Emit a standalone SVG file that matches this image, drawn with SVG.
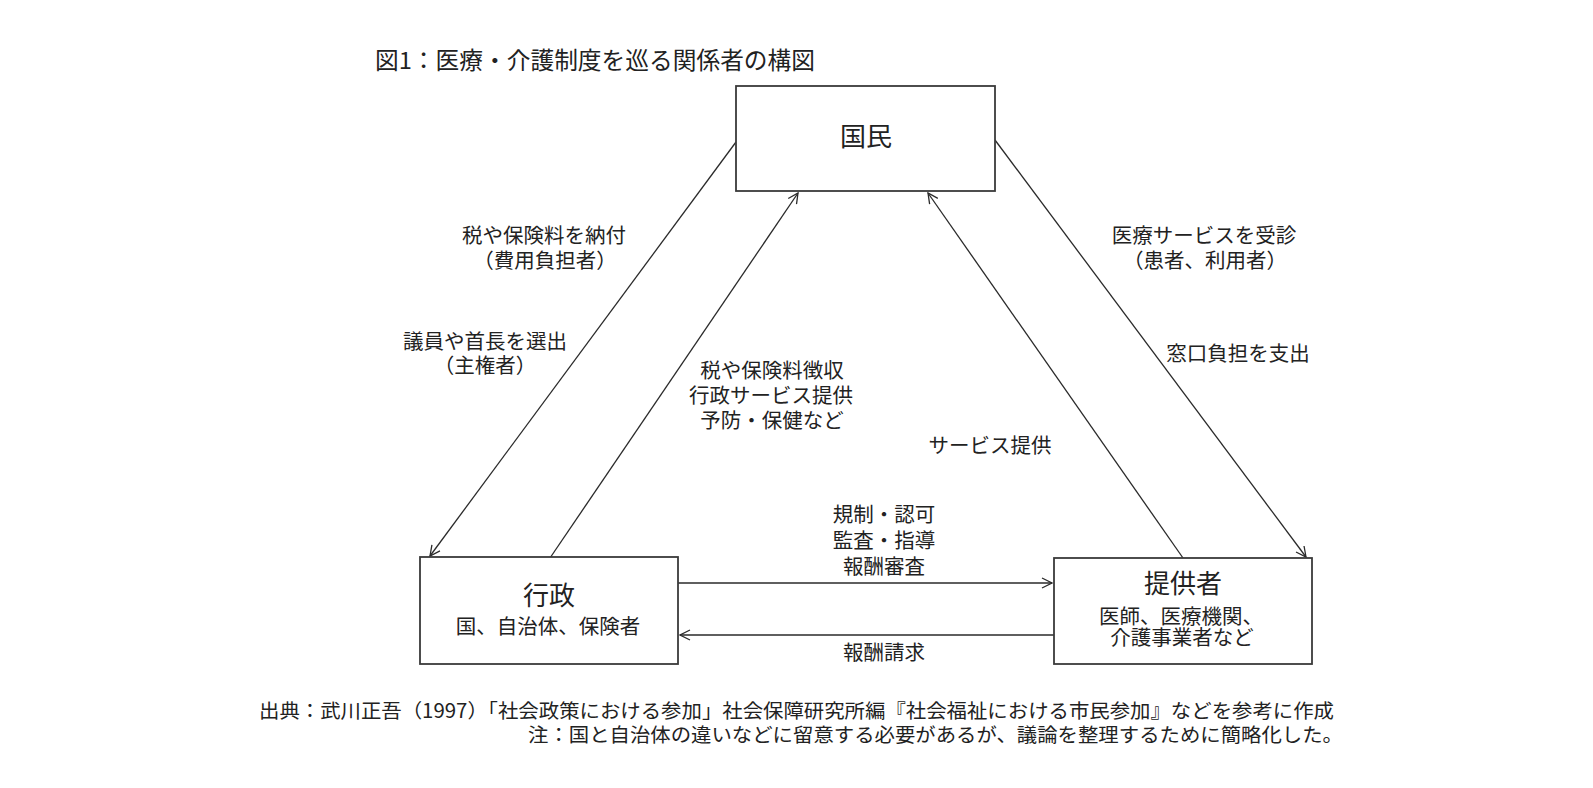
<svg xmlns="http://www.w3.org/2000/svg" width="1593" height="788" viewBox="0 0 1593 788">
<style>
text{font-family:"Noto Sans CJK JP","Noto Sans",sans-serif;fill:#222}
.box{fill:#fff;stroke:#3a3a3a;stroke-width:1.8}
.c{stroke:#2a2a2a;stroke-width:1.3;fill:none}
.lb{font-size:20.5px;text-anchor:middle}
.nm{font-size:26px;text-anchor:middle}
.sb{font-size:20.5px;text-anchor:middle}
.ft{font-size:19.5px}
</style>
<defs>
<marker id="ah" viewBox="0 0 12 12" refX="11" refY="6" markerWidth="12" markerHeight="12" markerUnits="userSpaceOnUse" orient="auto">
<path d="M1,1 L11,6 L1,11" fill="none" stroke="#2a2a2a" stroke-width="1.3"/>
</marker>
</defs>
<rect width="1593" height="788" fill="#fff"/>
<text x="375" y="69" style="font-size:23.5px" textLength="440" lengthAdjust="spacingAndGlyphs">図1：医療・介護制度を巡る関係者の構図</text>
<g id="connectors">
<line class="c" x1="736" y1="142" x2="430" y2="556" marker-end="url(#ah)"/>
<line class="c" x1="550" y1="558" x2="798" y2="193" marker-end="url(#ah)"/>
<line class="c" x1="1183" y1="558" x2="928" y2="193" marker-end="url(#ah)"/>
<line class="c" x1="995" y1="140" x2="1306" y2="557" marker-end="url(#ah)"/>
<line class="c" x1="678" y1="583" x2="1052" y2="583" marker-end="url(#ah)"/>
<line class="c" x1="1054" y1="635" x2="680" y2="635" marker-end="url(#ah)"/>
</g>
<g id="labels">
<text class="lb" x="544" y="243">税や保険料を納付</text>
<text class="lb" x="545" y="268">（費用負担者）</text>
<text class="lb" x="485" y="349">議員や首長を選出</text>
<text class="lb" x="485" y="373">（主権者）</text>
<text class="lb" x="772" y="378">税や保険料徴収</text>
<text class="lb" x="771" y="403">行政サービス提供</text>
<text class="lb" x="772" y="428">予防・保健など</text>
<text class="lb" x="990" y="453">サービス提供</text>
<text class="lb" x="1204" y="243">医療サービスを受診</text>
<text class="lb" x="1205" y="268">（患者、利用者）</text>
<text class="lb" x="1238" y="361">窓口負担を支出</text>
<text class="lb" x="884" y="522">規制・認可</text>
<text class="lb" x="884" y="548">監査・指導</text>
<text class="lb" x="884" y="574">報酬審査</text>
<text class="lb" x="884" y="660">報酬請求</text>
</g>
<g id="node-kokumin">
<rect class="box" x="736" y="86" width="259" height="105"/>
<text class="nm" x="866" y="146">国民</text>
</g>
<g id="node-gyosei">
<rect class="box" x="420" y="557" width="258" height="107"/>
<text class="nm" x="549" y="605">行政</text>
<text class="sb" x="548" y="634">国、自治体、保険者</text>
</g>
<g id="node-teikyosha">
<rect class="box" x="1054" y="558" width="258" height="106"/>
<text class="nm" x="1183" y="593">提供者</text>
<text class="sb" x="1181" y="624">医師、医療機関、</text>
<text class="sb" x="1182" y="645">介護事業者など</text>
</g>
<g id="footer">
<text class="ft" x="259" y="718" textLength="1075" lengthAdjust="spacingAndGlyphs">出典：武川正吾（1997）「社会政策における参加」社会保障研究所編『社会福祉における市民参加』などを参考に作成</text>
<text class="ft" x="528" y="742" textLength="815" lengthAdjust="spacingAndGlyphs">注：国と自治体の違いなどに留意する必要があるが、議論を整理するために簡略化した。</text>
</g>
</svg>
